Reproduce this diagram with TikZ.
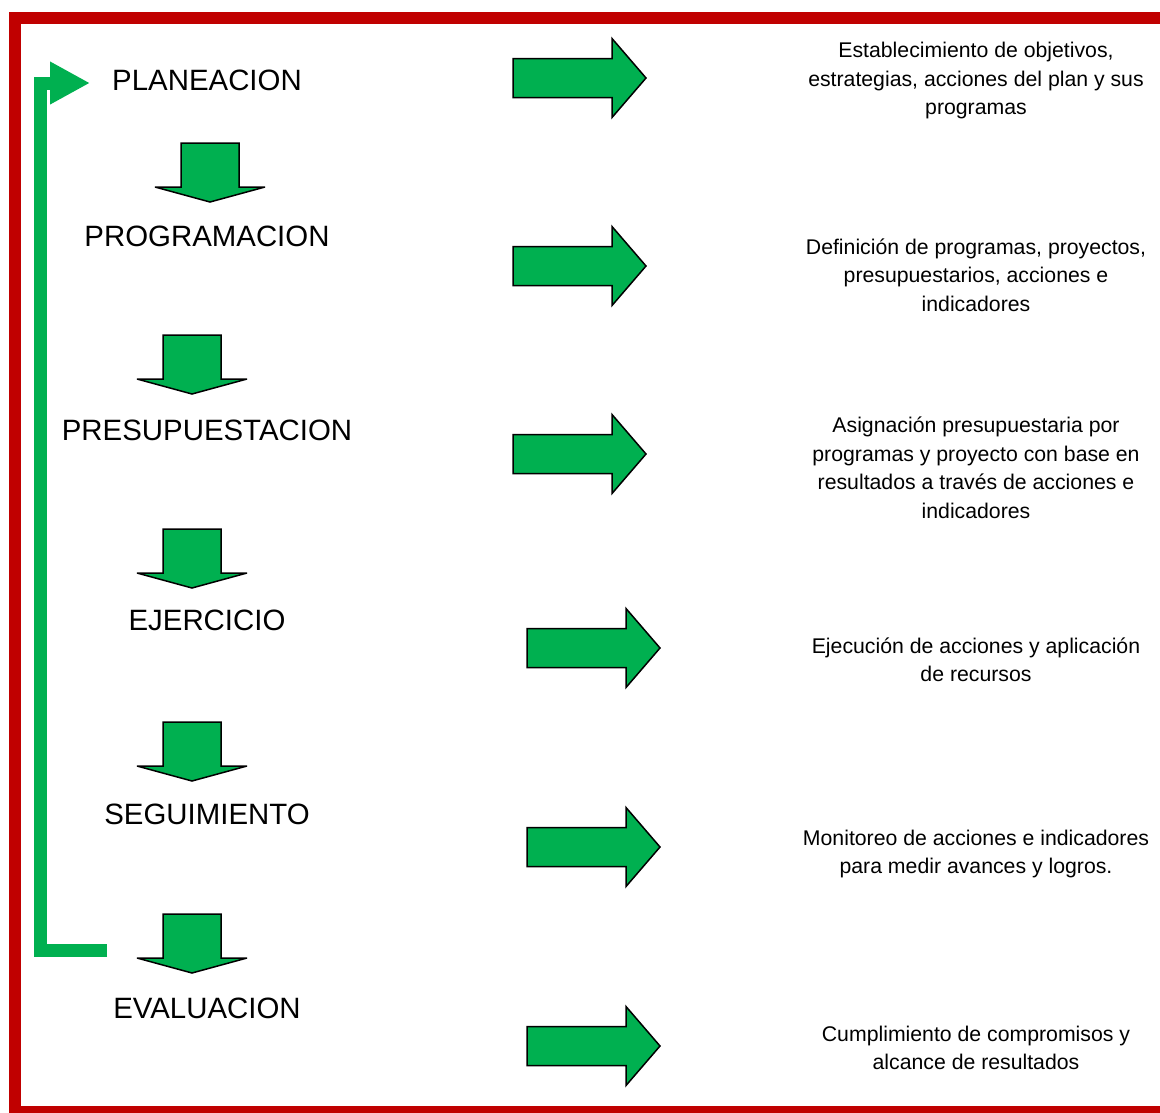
\documentclass[tikz,border=0pt]{standalone}
\usepackage{fontspec}
\setmainfont{Liberation Sans}
\usetikzlibrary{arrows.meta}
\definecolor{borderred}{RGB}{192,0,0}
\definecolor{arrowgreen}{RGB}{0,176,80}

\tikzset{
  stage/.style={font=\fontsize{29.4}{34}\selectfont, inner sep=0pt},
  detail/.style={font=\fontsize{21.25}{28.5}\selectfont, align=center, inner sep=0pt},
  blockarrow/.style={draw=black, line width=1.5pt, fill=arrowgreen, line join=miter, miter limit=4},
  rightarrow/.pic={\path[blockarrow] (0,-19.5) -- (99,-19.5) -- (99,-39.5) -- (133,0) -- (99,39.5) -- (99,19.5) -- (0,19.5) -- cycle;},
  downarrow/.pic={\path[blockarrow] (-29,0) -- (29,0) -- (29,44) -- (55,44) -- (0,59) -- (-55,44) -- (-29,44) -- cycle;},
}

\begin{document}
\begin{tikzpicture}[x=1pt,y=-1pt,>=Stealth]
\useasboundingbox (0,0) rectangle (1160,1112);
\clip (0,0) rectangle (1160,1112);
\draw[borderred, line width=12pt] (15,18) rectangle (1200,1112);

% stages
\node[stage] (plan) at (207,80) {PLANEACION};
\node[stage] (prog) at (207,236) {PROGRAMACION};
\node[stage] (pres) at (207,430) {PRESUPUESTACION};
\node[stage] (ejer) at (207,620) {EJERCICIO};
\node[stage] (segu) at (207,814) {SEGUIMIENTO};
\node[stage] (eval) at (207,1008) {EVALUACION};

% descriptions
\node[detail] (dplan) at (976,81) {Establecimiento de objetivos,\\estrategias, acciones del plan y sus\\programas};
\node[detail] (dprog) at (976,275) {Definición de programas, proyectos,\\presupuestarios, acciones e\\indicadores};
\node[detail] (dpres) at (976,468) {Asignación presupuestaria por\\programas y proyecto con base en\\resultados a través de acciones e\\indicadores};
\node[detail] (dejer) at (976,660) {Ejecución de acciones y aplicación\\de recursos};
\node[detail] (dsegu) at (976,854) {Monitoreo de acciones e indicadores\\para medir avances y logros.};
\node[detail] (deval) at (976,1048) {Cumplimiento de compromisos y\\alcance de resultados};

% down arrows
\pic at (210,143) {downarrow};
\pic at (192,335) {downarrow};
\pic at (192,529) {downarrow};
\pic at (192,722) {downarrow};
\pic at (192,914) {downarrow};

% right arrows
\pic at (513,78) {rightarrow};
\pic at (513,266) {rightarrow};
\pic at (513,454) {rightarrow};
\pic at (527,648) {rightarrow};
\pic at (527,847) {rightarrow};
\pic at (527,1046) {rightarrow};

% feedback
\coordinate (fbstart) at (107,950.5);
\coordinate (fbend) at (90,83);
\draw[arrowgreen, line width=13pt, -{Triangle[length=40pt,width=40pt]}]
  (fbstart) -- (40,950.5) -- (40,83) -- (fbend);
\end{tikzpicture}
\end{document}
